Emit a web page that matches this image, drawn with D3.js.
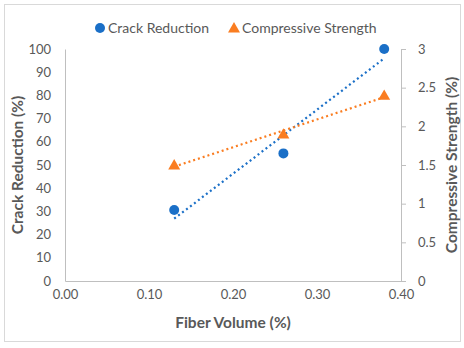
<!DOCTYPE html>
<meta charset="utf-8">
<script src="https://cdn.jsdelivr.net/npm/d3@7"></script>
<style>
body { margin: 0; background: #fff; }
text { font-family: Lato, "Open Sans", sans-serif; fill: #595959; }
.tick text { font-size: 13px; }
.title { font-size: 15.5px; font-weight: bold; }
</style>
<body>
<script>

// data
var fiber = [0.13, 0.26, 0.38];
var crack = [30.6, 55, 100];
var strength = [1.5, 1.9, 2.4];
var xTicks = [0, 0.1, 0.2, 0.3, 0.4];
var leftTicks = [0, 10, 20, 30, 40, 50, 60, 70, 80, 90, 100];
var rightTicks = [0, 0.5, 1, 1.5, 2, 2.5, 3];

var width = 464, height = 348;
var blue = "#1a6fc7", orange = "#fa7d21", grey = "#bfbfbf";

var svg = d3.select("body").append("svg")
    .attr("width", width)
    .attr("height", height);

svg.append("rect")
    .attr("x", 4.5).attr("y", 4.5)
    .attr("width", 456).attr("height", 337)
    .attr("fill", "#fff").attr("stroke", "#d9d9d9");

var x = d3.scaleLinear().domain([0, 0.4]).range([65, 401]);
var yL = d3.scaleLinear().domain([0, 100]).range([281, 49]);
var yR = d3.scaleLinear().domain([0, 3]).range([281, 49]);

// axes
var gx = svg.append("g").attr("transform", "translate(0,281)")
    .call(d3.axisBottom(x).tickValues(xTicks).tickFormat(d3.format(".2f")).tickSize(0).tickPadding(9));
var gl = svg.append("g").attr("transform", "translate(65,0)")
    .call(d3.axisLeft(yL).tickValues(leftTicks).tickSize(0).tickPadding(14));
var gr = svg.append("g").attr("transform", "translate(401,0)")
    .call(d3.axisRight(yR).tickValues(rightTicks).tickFormat(d3.format("")).tickSize(5).tickPadding(12));

[gx, gl, gr].forEach(function(g) {
  g.select(".domain").attr("stroke", grey);
  g.selectAll(".tick line").attr("stroke", grey);
  g.selectAll(".tick text").attr("fill", "#595959");
});

// linear trendlines
function fit(xs, ys) {
  var mx = d3.mean(xs), my = d3.mean(ys);
  var sxy = d3.sum(xs, function(v, i) { return (v - mx) * (ys[i] - my); });
  var sxx = d3.sum(xs, function(v) { return (v - mx) * (v - mx); });
  var b = sxy / sxx;
  return function(v) { return my + b * (v - mx); };
}

var lo = d3.min(fiber), hi = d3.max(fiber);
var fc = fit(fiber, crack), fs = fit(fiber, strength);

svg.append("line")
    .attr("x1", x(lo)).attr("y1", yL(fc(lo)))
    .attr("x2", x(hi)).attr("y2", yL(fc(hi)))
    .attr("stroke", blue).attr("stroke-width", 2.2)
    .attr("stroke-dasharray", "2,3");
svg.append("line")
    .attr("x1", x(lo)).attr("y1", yR(fs(lo)))
    .attr("x2", x(hi)).attr("y2", yR(fs(hi)))
    .attr("stroke", orange).attr("stroke-width", 2.2)
    .attr("stroke-dasharray", "2,3");

// markers
var tri = d3.symbol().type(d3.symbolTriangle).size(62);

svg.selectAll("path.str")
  .data(fiber)
  .enter().append("path")
    .attr("class", "str")
    .attr("d", tri)
    .attr("transform", function(d, i) { return "translate(" + x(d) + "," + (yR(strength[i]) + 1) + ")"; })
    .attr("fill", orange);

svg.selectAll("circle.crack")
  .data(fiber)
  .enter().append("circle")
    .attr("class", "crack")
    .attr("cx", function(d) { return x(d); })
    .attr("cy", function(d, i) { return yL(crack[i]); })
    .attr("r", 5)
    .attr("fill", blue);

// titles
svg.append("text").attr("class", "title")
    .attr("x", 233).attr("y", 328)
    .attr("text-anchor", "middle")
    .text("Fiber Volume (%)");
svg.append("text").attr("class", "title")
    .attr("transform", "translate(23,165) rotate(-90)")
    .attr("text-anchor", "middle")
    .text("Crack Reduction (%)");
svg.append("text").attr("class", "title")
    .attr("transform", "translate(457,165) rotate(-90)")
    .attr("text-anchor", "middle")
    .text("Compressive Strength (%)");

// legend
var leg = svg.append("g");
leg.append("circle").attr("cx", 100).attr("cy", 28).attr("r", 5).attr("fill", blue);
leg.append("text").attr("x", 108).attr("y", 33).style("font-size", "14px").text("Crack Reduction");
leg.append("path").attr("d", tri).attr("transform", "translate(234,29)").attr("fill", orange);
leg.append("text").attr("x", 242).attr("y", 33).style("font-size", "14px").text("Compressive Strength");

</script>
</body>
